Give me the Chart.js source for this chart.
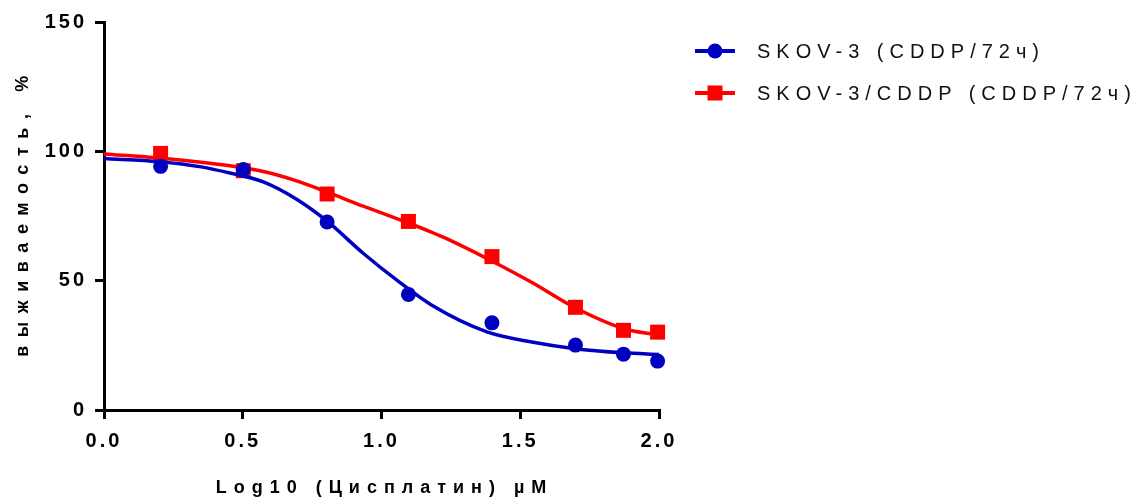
<!DOCTYPE html>
<html>
<head>
<meta charset="utf-8">
<script src="https://cdn.jsdelivr.net/npm/chart.js@4"></script>
<style>
  body { margin: 0; background: #fff; }
  #wrap { position: relative; width: 1142px; height: 497px; }
  #legend { position: absolute; left: 695px; top: 0; font-family: "Liberation Sans", Arial, sans-serif; }
  .item { position: absolute; left: 0; width: 460px; height: 30px; display: flex; align-items: center; }
  .swatch { position: relative; width: 40px; height: 30px; flex: none; }
  .swatch .line { position: absolute; left: 0; right: 0; top: 13px; height: 4px; }
  .swatch .mark { position: absolute; left: 50%; top: 50%; transform: translate(-50%, -50%); }
  .label { margin-left: 22px; font-size: 20px; letter-spacing: 6px; color: #111; white-space: nowrap; }
</style>
</head>
<body>
<div id="wrap">
  <canvas id="chart" width="1142" height="497"></canvas>
  <div id="legend"></div>
</div>
<script>
const seriesNames = ['SKOV-3 (CDDP/72ч)', 'SKOV-3/CDDP (CDDP/72ч)'];
const seriesColors = ['#0000c0', '#ff0000'];

// log10 of cisplatin concentration, µM
const doseLog = [0.204, 0.502, 0.804, 1.097, 1.398, 1.699, 1.872, 1.995];
const skov3 = [94.2, 93.0, 72.7, 44.7, 33.7, 25.1, 21.6, 18.9];
const skov3cddp = [99.2, 92.5, 83.5, 72.9, 59.3, 39.7, 30.8, 30.1];

// fitted curves
const fitXSkov3 = [0, 0.2, 0.35, 0.454, 0.574, 0.694, 0.803, 0.934, 1.06, 1.18, 1.38, 1.547, 1.691, 1.871, 2.0];
const fitYSkov3 = [97.2, 96.0, 94.0, 91.6, 88.2, 81.5, 73.1, 60.6, 49.8, 40.6, 30.2, 26.2, 23.8, 22.1, 21.5];
const fitXCddp = [0, 0.2, 0.35, 0.454, 0.574, 0.694, 0.803, 0.934, 1.067, 1.175, 1.223, 1.39, 1.547, 1.691, 1.871, 2.0];
const fitYCddp = [99.0, 97.4, 95.8, 94.4, 92.2, 88.6, 84.3, 78.8, 73.5, 69.0, 66.8, 58.0, 49.0, 39.9, 31.5, 28.9];

const xTicks = [0, 0.5, 1.0, 1.5, 2.0];
const yTicks = [0, 50, 100, 150];
const xTitle = 'Log10 (Цисплатин) µM';
const yTitle = 'выживаемость, %';

const toPoints = (xs, ys) => xs.map((x, i) => ({ x: x, y: ys[i] }));
const FONT = '"Liberation Sans", Arial, sans-serif';

const spacingPlugin = {
  id: 'spacing',
  beforeDraw(chart) {
    chart.ctx.letterSpacing = '3px';
  }
};

const titlesPlugin = {
  id: 'axisTitles',
  afterDraw(chart) {
    const ctx = chart.ctx;
    const xs = chart.scales.x;
    const ys = chart.scales.y;
    ctx.save();
    ctx.fillStyle = '#000';
    ctx.textAlign = 'center';
    ctx.textBaseline = 'middle';
    ctx.font = 'bold 18px ' + FONT;
    ctx.letterSpacing = '7px';
    ctx.fillText(xTitle, (xs.left + xs.right) / 2 + 3, 488);
    ctx.letterSpacing = '8.6px';
    ctx.translate(23, (ys.top + ys.bottom) / 2);
    ctx.rotate(-Math.PI / 2);
    ctx.fillText(yTitle, 4, 0);
    ctx.restore();
  }
};

const axisLook = {
  border: { color: '#000', width: 3 },
  grid: { drawOnChartArea: false, color: '#000', lineWidth: 3, tickLength: 9, tickColor: '#000', tickWidth: 3 }
};

new Chart(document.getElementById('chart'), {
  type: 'scatter',
  data: {
    datasets: [
      {
        label: seriesNames[0],
        data: toPoints(doseLog, skov3),
        showLine: false,
        clip: false,
        pointStyle: 'circle',
        pointRadius: 7.5,
        pointBackgroundColor: seriesColors[0],
        pointBorderWidth: 0
      },
      {
        label: seriesNames[0] + ' fit',
        data: toPoints(fitXSkov3, fitYSkov3),
        showLine: true,
        clip: false,
        borderColor: seriesColors[0],
        borderWidth: 3.5,
        pointRadius: 0,
        cubicInterpolationMode: 'monotone'
      },
      {
        label: seriesNames[1],
        data: toPoints(doseLog, skov3cddp),
        showLine: false,
        clip: false,
        pointStyle: 'rect',
        pointRadius: 10.6,
        pointBackgroundColor: seriesColors[1],
        pointBorderWidth: 0
      },
      {
        label: seriesNames[1] + ' fit',
        data: toPoints(fitXCddp, fitYCddp),
        showLine: true,
        clip: false,
        borderColor: seriesColors[1],
        borderWidth: 3.5,
        pointRadius: 0,
        cubicInterpolationMode: 'monotone'
      }
    ]
  },
  options: {
    responsive: false,
    animation: false,
    layout: { padding: { top: 22, right: 483, left: 0, bottom: 0 } },
    plugins: {
      legend: { display: false },
      tooltip: { enabled: false }
    },
    scales: {
      x: {
        type: 'linear',
        min: 0,
        max: 2,
        afterFit: scale => { scale.height = 87; },
        afterBuildTicks: scale => { scale.ticks = xTicks.map(v => ({ value: v })); },
        ticks: {
          color: '#000',
          padding: 10,
          font: { family: FONT, size: 20, weight: 'bold' },
          callback: value => value.toFixed(1)
        },
        ...axisLook
      },
      y: {
        min: 0,
        max: 150,
        afterFit: scale => { scale.width = 104; },
        afterBuildTicks: scale => { scale.ticks = yTicks.map(v => ({ value: v })); },
        ticks: {
          color: '#000',
          padding: 8,
          font: { family: FONT, size: 20, weight: 'bold' }
        },
        ...axisLook
      }
    }
  },
  plugins: [spacingPlugin, titlesPlugin]
});

// legend: line with marker, as in the original figure
const legendEl = document.getElementById('legend');
seriesNames.forEach((name, i) => {
  const item = document.createElement('div');
  item.className = 'item';
  item.style.top = (36 + i * 42) + 'px';
  const mark = i === 0
    ? `<i class="mark" style="width:15px;height:15px;border-radius:50%;background:${seriesColors[i]}"></i>`
    : `<i class="mark" style="width:15px;height:15px;background:${seriesColors[i]}"></i>`;
  item.innerHTML = `<span class="swatch"><i class="line" style="background:${seriesColors[i]}"></i>${mark}</span><span class="label">${name}</span>`;
  legendEl.appendChild(item);
});
</script>
</body>
</html>
